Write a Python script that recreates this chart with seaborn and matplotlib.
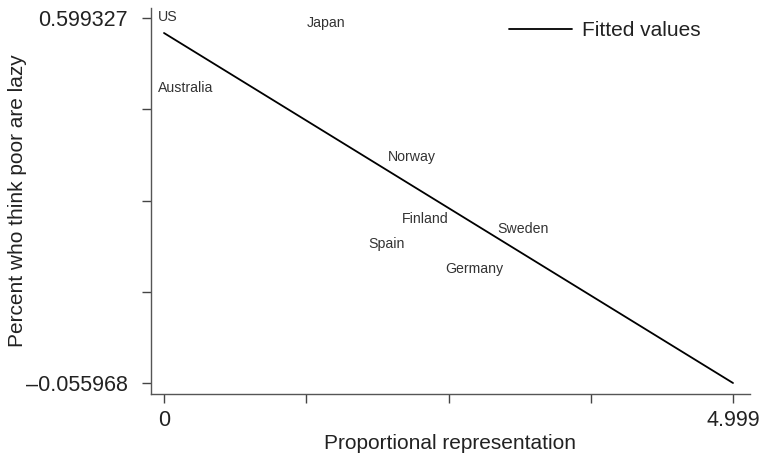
import matplotlib
matplotlib.use("Agg")
import matplotlib.pyplot as plt
import seaborn as sns
import pandas as pd

# Country values: proportional representation vs. share who think the poor are lazy
countries = ["US", "Japan", "Australia", "Norway", "Finland", "Sweden", "Spain", "Germany"]
prop_rep = [0.0, 1.31, 0.0, 2.02, 2.14, 2.98, 1.85, 2.52]
pct_lazy = [0.599327, 0.5886, 0.4709, 0.3476, 0.2363, 0.2173, 0.1909, 0.1465]

# Fitted regression line endpoints
fit_x = [0.0, 4.999]
fit_y = [0.5724, -0.055968]

# Axis ticks
x_ticks = [0.0, 1.24975, 2.4995, 3.74925, 4.999]
x_ticklabels = ["0", "", "", "", "4.999"]
y_ticks = [-0.055968, 0.1078558, 0.2716795, 0.4355033, 0.599327]
y_ticklabels = ["\u20130.055968", "", "", "", "0.599327"]

sns.set_theme(style="white")
plt.rcParams["font.family"] = ["Liberation Sans", "DejaVu Sans"]

W, H, DPI = 761, 458, 100
fig = plt.figure(figsize=(W / DPI, H / DPI), dpi=DPI)

# axes box in pixel terms
left_px, right_px, top_px, bottom_px = 151, 750, 8, 394
ax = fig.add_axes([left_px / W, (H - bottom_px) / H,
                   (right_px - left_px) / W, (bottom_px - top_px) / H])

# data-to-pixel layout: x=0 at 164px, x=4.999 at 733px; y extremes at 18px / 383px
x_px0, x_px1 = 164, 733
sx = (x_px1 - x_px0) / (x_ticks[-1] - x_ticks[0])
y_px_top, y_px_bot = 18, 383
sy = (y_px_bot - y_px_top) / (y_ticks[-1] - y_ticks[0])
ax.set_xlim(x_ticks[0] - (x_px0 - left_px) / sx, x_ticks[-1] + (right_px - x_px1) / sx)
ax.set_ylim(y_ticks[0] - (bottom_px - y_px_bot) / sy, y_ticks[-1] + (y_px_top - top_px) / sy)

fit_df = pd.DataFrame({"x": fit_x, "y": fit_y})
sns.lineplot(data=fit_df, x="x", y="y", color="black", linewidth=1.3,
             label="Fitted values", ax=ax)

px2pt = 72 / DPI
for name, xv, yv in zip(countries, prop_rep, pct_lazy):
    ax.annotate(name, xy=(xv, yv), xytext=(-6 * px2pt, 1.3 * px2pt),
                textcoords="offset points", ha="left", va="center",
                fontsize=10.2, color="#333333")

ax.set_xticks(x_ticks)
ax.set_xticklabels(x_ticklabels)
ax.set_yticks(y_ticks)
ax.set_yticklabels(y_ticklabels)
ax.tick_params(axis="both", direction="out", length=9 * px2pt, width=1.0,
               color="#444444", labelsize=15.5, labelcolor="#222222",
               bottom=True, left=True)
ax.tick_params(axis="y", pad=10)
ax.tick_params(axis="x", pad=5)

for side in ["top", "right"]:
    ax.spines[side].set_visible(False)
for side in ["left", "bottom"]:
    ax.spines[side].set_color("#555555")
    ax.spines[side].set_linewidth(1.0)

ax.set_xlabel("Proportional representation", fontsize=15, color="#222222", labelpad=2.5)
ax.set_ylabel("Percent who think poor are lazy", fontsize=15, color="#222222")
ax.yaxis.set_label_coords((27 - left_px) / (right_px - left_px), 0.5)

leg = ax.legend(loc="center left", bbox_to_anchor=(509 / W, 1 - 31 / H),
                bbox_transform=fig.transFigure, frameon=False, fontsize=15,
                handlelength=3.0, handletextpad=0.5, borderpad=0, borderaxespad=0)
for t in leg.get_texts():
    t.set_color("#222222")

fig.savefig("out.png", dpi=DPI)
